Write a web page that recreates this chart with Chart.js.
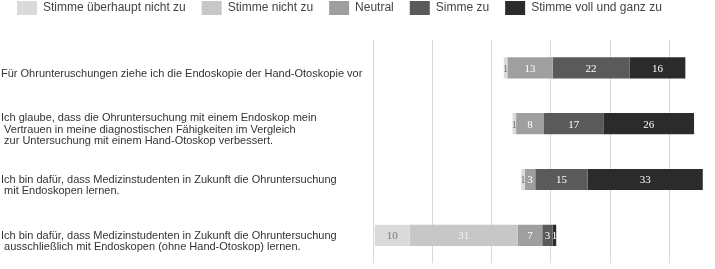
<!DOCTYPE html>
<html lang="de">
<head>
<meta charset="utf-8">
<title>Endoskopie vs. Hand-Otoskopie</title>
<script src="https://cdn.jsdelivr.net/npm/chart.js@4/dist/chart.umd.min.js"></script>
<style>
  html, body { margin: 0; padding: 0; background: #fff; }
  #wrap { width: 715px; height: 269px; position: relative; }
</style>
</head>
<body>
<div id="wrap"><canvas id="likert"></canvas></div>
<script>
// --- 1. DATA ---
const questions = [
    ['Für Ohrunteruschungen ziehe ich die Endoskopie der Hand-Otoskopie vor'],
    ['Ich glaube, dass die Ohruntersuchung mit einem Endoskop mein',
     ' Vertrauen in meine diagnostischen Fähigkeiten im Vergleich',
     ' zur Untersuchung mit einem Hand-Otoskop verbessert.'],
    ['Ich bin dafür, dass Medizinstudenten in Zukunft die Ohruntersuchung',
     ' mit Endoskopen lernen.'],
    ['Ich bin dafür, dass Medizinstudenten in Zukunft die Ohruntersuchung',
     ' ausschließlich mit Endoskopen (ohne Hand-Otoskop) lernen.']
];
const answers = ['Stimme überhaupt nicht zu', 'Stimme nicht zu', 'Neutral', 'Simme zu', 'Stimme voll und ganz zu'];

const ueberhauptNicht = [1, 1, 1, 10];
const nichtZu         = [0, 0, 0, 31];
const neutral         = [13, 8, 3, 7];
const simmeZu         = [22, 17, 15, 3];
const vollUndGanz     = [16, 26, 33, 1];

// --- 2. STYLE ---
const fills  = ['#dadada', '#c6c7c6', '#9f9f9f', '#5a5a5a', '#2b2b2b'];
const inkCol = ['#7a7a7a', '#f4f4f4', '#ffffff', '#ffffff', '#ffffff'];
const MID = 45;      // position of the neutral midpoint on the x scale
const GRID_STEP = 17;

// --- 3. DIVERGING SPANS (centred on neutral) ---
const series = [ueberhauptNicht, nichtZu, neutral, simmeZu, vollUndGanz];

function spansFor(idx) {
    return questions.map((_, r) => {
        let start = MID - series[0][r] - series[1][r] - series[2][r] / 2;
        for (let j = 0; j < idx; j++) start += series[j][r];
        return [start, start + series[idx][r]];
    });
}

// value labels inside each segment
const segmentLabels = {
    id: 'segmentLabels',
    afterDatasetsDraw(chart) {
        const ctx = chart.ctx;
        ctx.save();
        ctx.font = '11px "Liberation Serif", "DejaVu Serif", serif';
        ctx.textAlign = 'center';
        ctx.textBaseline = 'middle';
        chart.data.datasets.forEach((ds, i) => {
            chart.getDatasetMeta(i).data.forEach((bar, r) => {
                const v = series[i][r];
                if (!v) return;
                const p = bar.getCenterPoint();
                ctx.fillStyle = inkCol[i];
                ctx.fillText(String(v), p.x, p.y + 1);
            });
        });
        ctx.restore();
    }
};

new Chart(document.getElementById('likert'), {
    type: 'bar',
    data: {
        labels: questions,
        datasets: answers.map((name, i) => ({
            label: name,
            data: spansFor(i),
            backgroundColor: fills[i],
            borderWidth: 0,
            grouped: false,
            barPercentage: 0.38,
            categoryPercentage: 1
        }))
    },
    options: {
        indexAxis: 'y',
        responsive: true,
        maintainAspectRatio: false,
        animation: false,
        layout: { padding: { top: -15, left: 1, right: 0, bottom: 0 } },
        scales: {
            x: {
                position: 'top',
                min: 0,
                max: 98,
                ticks: { display: false, stepSize: GRID_STEP },
                grid: { color: '#d9d9d9', lineWidth: 1, drawTicks: false },
                border: { display: false },
                afterBuildTicks: axis => {
                    axis.ticks = axis.ticks.filter(t => t.value % GRID_STEP === 0);
                },
                afterFit: axis => { axis.height = 15; }
            },
            y: {
                grid: { display: false },
                border: { display: false },
                ticks: {
                    crossAlign: 'far',
                    color: '#333',
                    padding: 0,
                    labelOffset: 6,
                    font: { family: '"Liberation Sans", Arial, sans-serif', size: 11, lineHeight: 1.05 }
                },
                afterFit: axis => { axis.width = 372; }
            }
        },
        plugins: {
            legend: {
                position: 'top',
                align: 'start',
                labels: {
                    boxWidth: 20,
                    boxHeight: 14,
                    padding: 16,
                    color: '#444',
                    font: { family: '"Liberation Sans", Arial, sans-serif', size: 12 }
                }
            },
            tooltip: { enabled: false }
        }
    },
    plugins: [segmentLabels]
});
</script>
</body>
</html>
